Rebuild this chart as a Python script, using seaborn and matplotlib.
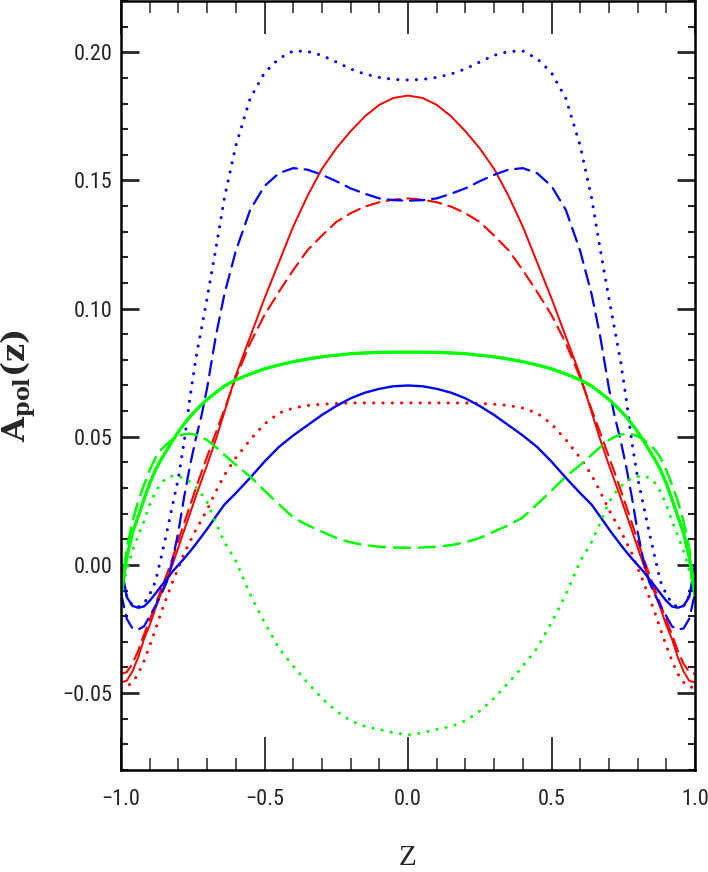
import matplotlib
matplotlib.use("Agg")
import matplotlib.pyplot as plt
import seaborn as sns
import pandas as pd
from matplotlib import font_manager as fm
from matplotlib.ticker import MultipleLocator, FixedLocator

# ---------------- data ----------------
z = [-1.00, -0.98, -0.96, -0.94, -0.92, -0.90, -0.88, -0.86, -0.84, -0.82, -0.80,
     -0.78, -0.76, -0.74, -0.72, -0.70, -0.67, -0.64, -0.60, -0.55, -0.50, -0.45,
     -0.40, -0.35, -0.30, -0.25, -0.20, -0.15, -0.10, -0.05, 0.00,
     0.05, 0.10, 0.15, 0.20, 0.25, 0.30, 0.35, 0.40, 0.45, 0.50, 0.55, 0.60, 0.64,
     0.67, 0.70, 0.72, 0.74, 0.76, 0.78, 0.80, 0.82, 0.84, 0.86, 0.88, 0.90, 0.92,
     0.94, 0.96, 0.98, 1.00]

red_solid = [-0.0458, -0.0452, -0.0415, -0.0360, -0.0290, -0.0235, -0.0170, -0.0110, -0.0055, 0.0003, 0.0068,
             0.0135, 0.0200, 0.0265, 0.0328, 0.0390, 0.0488, 0.0595, 0.0740, 0.0890, 0.1040, 0.1180,
             0.1320, 0.1440, 0.1545, 0.1625, 0.1692, 0.1750, 0.1795, 0.1822, 0.1831,
             0.1822, 0.1795, 0.1750, 0.1692, 0.1625, 0.1545, 0.1440, 0.1320, 0.1180, 0.1040, 0.0890, 0.0740, 0.0595,
             0.0488, 0.0390, 0.0328, 0.0265, 0.0200, 0.0135, 0.0068, 0.0003, -0.0055, -0.0110, -0.0170, -0.0235, -0.0290,
             -0.0360, -0.0415, -0.0452, -0.0458]

red_dashed = [-0.0425, -0.0418, -0.0385, -0.0335, -0.0272, -0.0215, -0.0155, -0.0095, -0.0035, 0.0028, 0.0095,
              0.0163, 0.0230, 0.0296, 0.0360, 0.0422, 0.0515, 0.0605, 0.0730, 0.0865, 0.0975, 0.1065,
              0.1150, 0.1228, 0.1285, 0.1338, 0.1372, 0.1398, 0.1415, 0.1425, 0.1430,
              0.1425, 0.1415, 0.1398, 0.1372, 0.1338, 0.1285, 0.1228, 0.1150, 0.1065, 0.0975, 0.0865, 0.0730, 0.0605,
              0.0515, 0.0422, 0.0360, 0.0296, 0.0230, 0.0163, 0.0095, 0.0028, -0.0035, -0.0095, -0.0155, -0.0215, -0.0272,
              -0.0335, -0.0385, -0.0418, -0.0425]

red_dotted = [-0.0480, -0.0475, -0.0458, -0.0425, -0.0375, -0.0315, -0.0252, -0.0185, -0.0125, -0.0065, -0.0012,
              0.0045, 0.0090, 0.0135, 0.0175, 0.0215, 0.0285, 0.0350, 0.0418, 0.0488, 0.0550, 0.0592,
              0.0612, 0.0622, 0.0627, 0.0630, 0.0632, 0.0632, 0.0632, 0.0632, 0.0632,
              0.0632, 0.0632, 0.0632, 0.0632, 0.0630, 0.0627, 0.0622, 0.0612, 0.0592, 0.0550, 0.0488, 0.0418, 0.0350,
              0.0285, 0.0215, 0.0175, 0.0135, 0.0090, 0.0045, -0.0012, -0.0065, -0.0125, -0.0185, -0.0252, -0.0315, -0.0375,
              -0.0425, -0.0458, -0.0475, -0.0480]

blue_solid = [0.0000, -0.0125, -0.0160, -0.0167, -0.0162, -0.0140, -0.0112, -0.0082, -0.0055, -0.0025, 0.0000,
              0.0025, 0.0052, 0.0080, 0.0110, 0.0140, 0.0188, 0.0235, 0.0280, 0.0340, 0.0403, 0.0460,
              0.0505, 0.0545, 0.0585, 0.0620, 0.0650, 0.0672, 0.0687, 0.0697, 0.0700,
              0.0697, 0.0687, 0.0672, 0.0650, 0.0620, 0.0585, 0.0545, 0.0505, 0.0460, 0.0403, 0.0340, 0.0280, 0.0235,
              0.0188, 0.0140, 0.0110, 0.0080, 0.0052, 0.0025, 0.0000, -0.0025, -0.0055, -0.0082, -0.0112, -0.0140, -0.0162,
              -0.0167, -0.0160, -0.0125, 0.0000]

blue_dashed = [-0.0110, -0.0210, -0.0248, -0.0252, -0.0240, -0.0200, -0.0160, -0.0115, -0.0065, 0.0020, 0.0130,
               0.0265, 0.0385, 0.0490, 0.0580, 0.0690, 0.0890, 0.1055, 0.1225, 0.1385, 0.1478, 0.1528,
               0.1548, 0.1542, 0.1522, 0.1497, 0.1469, 0.1448, 0.1430, 0.1423, 0.1421,
               0.1423, 0.1430, 0.1448, 0.1469, 0.1497, 0.1522, 0.1542, 0.1548, 0.1528, 0.1478, 0.1385, 0.1225, 0.1055,
               0.0890, 0.0690, 0.0580, 0.0490, 0.0385, 0.0265, 0.0130, 0.0020, -0.0065, -0.0115, -0.0160, -0.0200, -0.0240,
               -0.0252, -0.0248, -0.0210, -0.0110]

blue_dotted = [-0.0050, -0.0120, -0.0160, -0.0165, -0.0150, -0.0115, -0.0065, 0.0030, 0.0130, 0.0235, 0.0340,
               0.0480, 0.0650, 0.0800, 0.0920, 0.1040, 0.1230, 0.1430, 0.1635, 0.1820, 0.1920, 0.1975,
               0.2005, 0.2003, 0.1988, 0.1962, 0.1935, 0.1915, 0.1902, 0.1894, 0.1892,
               0.1894, 0.1902, 0.1915, 0.1935, 0.1962, 0.1988, 0.2003, 0.2005, 0.1975, 0.1920, 0.1820, 0.1635, 0.1430,
               0.1230, 0.1040, 0.0920, 0.0800, 0.0650, 0.0480, 0.0340, 0.0235, 0.0130, 0.0030, -0.0065, -0.0115, -0.0150,
               -0.0165, -0.0160, -0.0120, -0.0050]

green_solid = [-0.0120, 0.0030, 0.0125, 0.0190, 0.0255, 0.0318, 0.0370, 0.0412, 0.0448, 0.0485, 0.0520,
               0.0550, 0.0578, 0.0602, 0.0625, 0.0645, 0.0672, 0.0698, 0.0722, 0.0745, 0.0765, 0.0780,
               0.0793, 0.0803, 0.0812, 0.0818, 0.0824, 0.0827, 0.0829, 0.0830, 0.0830,
               0.0830, 0.0829, 0.0827, 0.0824, 0.0818, 0.0812, 0.0803, 0.0793, 0.0780, 0.0765, 0.0745, 0.0722, 0.0698,
               0.0672, 0.0645, 0.0625, 0.0602, 0.0578, 0.0550, 0.0520, 0.0485, 0.0448, 0.0412, 0.0370, 0.0318, 0.0255,
               0.0190, 0.0125, 0.0030, -0.0120]

green_dashed = [-0.0110, 0.0065, 0.0170, 0.0250, 0.0312, 0.0370, 0.0418, 0.0450, 0.0472, 0.0490, 0.0502,
                0.0510, 0.0512, 0.0508, 0.0500, 0.0487, 0.0460, 0.0430, 0.0390, 0.0345, 0.0290, 0.0237,
                0.0185, 0.0155, 0.0130, 0.0105, 0.0088, 0.0077, 0.0071, 0.0068, 0.0067,
                0.0068, 0.0071, 0.0077, 0.0088, 0.0105, 0.0130, 0.0155, 0.0185, 0.0237, 0.0290, 0.0345, 0.0390, 0.0430,
                0.0460, 0.0487, 0.0500, 0.0508, 0.0512, 0.0510, 0.0502, 0.0490, 0.0472, 0.0450, 0.0418, 0.0370, 0.0312,
                0.0250, 0.0170, 0.0065, -0.0110]

green_dotted = [-0.0110, -0.0020, 0.0055, 0.0115, 0.0170, 0.0235, 0.0285, 0.0320, 0.0340, 0.0347, 0.0345,
                0.0338, 0.0325, 0.0305, 0.0278, 0.0245, 0.0165, 0.0090, 0.0015, -0.0115, -0.0225, -0.0325,
                -0.0395, -0.0460, -0.0520, -0.0570, -0.0608, -0.0630, -0.0642, -0.0655, -0.0663,
                -0.0655, -0.0642, -0.0630, -0.0608, -0.0570, -0.0520, -0.0460, -0.0395, -0.0325, -0.0225, -0.0115, 0.0015, 0.0090,
                0.0165, 0.0245, 0.0278, 0.0305, 0.0325, 0.0338, 0.0345, 0.0347, 0.0340, 0.0320, 0.0285, 0.0235, 0.0170,
                0.0115, 0.0055, -0.0020, -0.0110]

x_ticks = [-1.0, -0.5, 0.0, 0.5, 1.0]
x_ticklabels = ["\u22121.0", "\u22120.5", "0.0", "0.5", "1.0"]
y_ticks = [-0.05, 0.00, 0.05, 0.10, 0.15, 0.20]
y_ticklabels = ["\u22120.05", "0.00", "0.05", "0.10", "0.15", "0.20"]


# ---------------- font choice: a condensed sans if one is installed ----------------
def pick_tick_font(size):
    cands = []
    for f in fm.fontManager.ttflist:
        nm = f.name
        st = str(f.stretch)
        narrow = ("Narrow" in nm or "Condensed" in nm or
                  st in ("condensed", "semi-condensed", "extra-condensed", "ultra-condensed"))
        if not narrow:
            continue
        if "Mono" in nm or "Serif" in nm or "CJK" in nm:
            continue
        if f.style != "normal":
            continue
        w = f.weight
        try:
            w = int(w)
        except (TypeError, ValueError):
            w = 400 if str(w) in ("normal", "regular", "book") else 700
        if w != 400:
            continue
        cands.append(f)
    pref = ["Liberation Sans Narrow", "Roboto Condensed", "Open Sans Condensed",
            "Noto Sans", "DejaVu Sans", "Lato", "Inter", "Open Sans", "Roboto"]
    for p in pref:
        for f in cands:
            if f.name.startswith(p):
                return fm.FontProperties(fname=f.fname, size=size)
    if cands:
        return fm.FontProperties(fname=cands[0].fname, size=size)
    return fm.FontProperties(family=["Liberation Sans", "DejaVu Sans"], size=size - 2)


# ---------------- plotting ----------------
sns.set_style("white")
plt.rcParams["mathtext.fontset"] = "dejavuserif"

fig = plt.figure(figsize=(7.08, 8.72), dpi=100)
ax = fig.add_axes([121 / 708, 1 - 770 / 872, 574 / 708, 769 / 872])

RED, BLUE, GREEN = "#ff0000", "#0000ff", "#00ff00"
DASH = (0, (6.5, 3.5))
DOT = (0, (0.05, 3.0))

series = [
    (red_solid, RED, "-", 1.4),
    (red_dashed, RED, DASH, 1.5),
    (red_dotted, RED, DOT, 2.2),
    (blue_solid, BLUE, "-", 1.7),
    (blue_dashed, BLUE, DASH, 1.6),
    (blue_dotted, BLUE, DOT, 2.2),
    (green_solid, GREEN, "-", 2.4),
    (green_dashed, GREEN, DASH, 1.8),
    (green_dotted, GREEN, DOT, 2.2),
]

for vals, col, ls, lw in series:
    df = pd.DataFrame({"z": z, "A": vals})
    sns.lineplot(data=df, x="z", y="A", color=col, linestyle=ls, linewidth=lw,
                 errorbar=None, ax=ax, solid_capstyle="round",
                 dash_capstyle="round", solid_joinstyle="round")

ax.set_xlim(-1.0, 1.0)
ax.set_ylim(-0.08, 0.22)

ax.xaxis.set_major_locator(FixedLocator(x_ticks))
ax.xaxis.set_minor_locator(MultipleLocator(0.1))
ax.yaxis.set_major_locator(FixedLocator(y_ticks))
ax.yaxis.set_minor_locator(MultipleLocator(0.01))

tick_fp = pick_tick_font(16)
ax.set_xticklabels(x_ticklabels, fontproperties=tick_fp)
ax.set_yticklabels(y_ticklabels, fontproperties=tick_fp)

ax.tick_params(axis="x", which="major", direction="in", length=24, width=1.1,
               top=True, bottom=True, pad=14, color="black")
ax.tick_params(axis="x", which="minor", direction="in", length=8.5, width=1.1,
               top=True, bottom=True)
ax.tick_params(axis="y", which="major", direction="in", length=13, width=2.0,
               left=True, right=True, pad=6)
ax.tick_params(axis="y", which="minor", direction="in", length=5, width=1.5,
               left=True, right=True)

for sp in ax.spines.values():
    sp.set_visible(True)
    sp.set_linewidth(1.8)
    sp.set_color("black")

ax.set_xlabel("Z", fontsize=21, family=["Liberation Serif", "DejaVu Serif"])
ax.set_ylabel(r"$\mathbf{A_{pol}(z)}$", fontsize=23)
ax.xaxis.set_label_coords(0.5, (770 - 845) / 769)
ax.yaxis.set_label_coords((38 - 121) / 574, 0.5)

fig.savefig("out.png", dpi=100)
